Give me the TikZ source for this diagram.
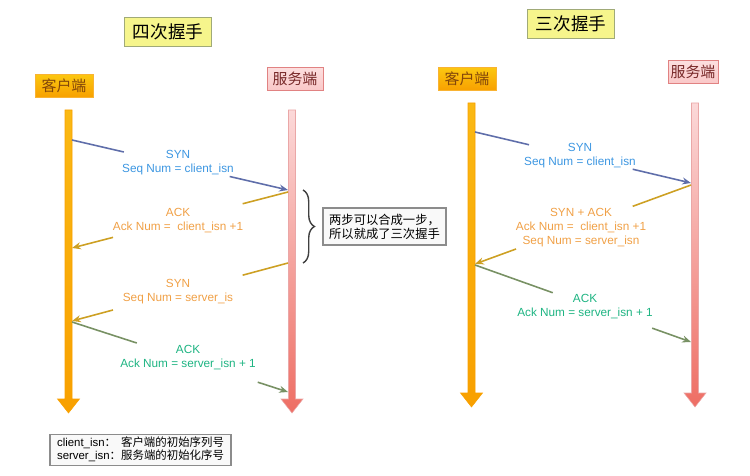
\documentclass[tikz,border=0pt]{standalone}
\usepackage{fontspec}
\setmainfont{Liberation Sans}
\newfontfamily\cjk{Noto Sans CJK SC}
\usepackage{tikz}
\usetikzlibrary{
  arrows.meta,
  positioning, calc,
  decorations.pathreplacing
}
\definecolor{titleyellow}{RGB}{246,245,140}
\definecolor{titleedge}{RGB}{160,170,120}
\definecolor{clitop}{RGB}{250,185,20}
\definecolor{clibot}{RGB}{248,160,0}
\definecolor{clitext}{RGB}{130,70,10}
\definecolor{srvpink}{RGB}{250,200,200}
\definecolor{srvred}{RGB}{238,110,100}
\definecolor{srvedge}{RGB}{225,130,130}
\definecolor{srvtext}{RGB}{120,40,40}
\definecolor{synblue}{RGB}{60,150,225}
\definecolor{synline}{RGB}{95,110,170}
\definecolor{ackorange}{RGB}{240,160,70}
\definecolor{ackline}{RGB}{205,160,35}
\definecolor{fingreen}{RGB}{30,180,130}
\definecolor{finline}{RGB}{120,145,100}
\definecolor{notegray}{RGB}{140,140,140}
\tikzset{
  basebox/.style={rectangle,align=center,inner sep=1pt},
  titlebox/.style={basebox,fill=titleyellow,draw=titleedge,line width=0.8pt,minimum width=1.74cm,minimum height=0.58cm,font=\cjk\fontsize{10}{12}\selectfont},
  clientbox/.style={basebox,top color=clitop!80!yellow,bottom color=clibot,draw=clibot!80,text=clitext,minimum width=1.16cm,minimum height=0.46cm,font=\cjk\fontsize{8.5}{10}\selectfont},
  serverbox/.style={basebox,top color=srvpink!60,bottom color=srvpink,draw=srvedge,text=srvtext,minimum width=1.12cm,minimum height=0.45cm,font=\cjk\fontsize{8.5}{10}\selectfont},
  notebox/.style={basebox,fill=gray!5,draw=notegray,line width=0.6pt,align=left,font=\fontsize{6.5}{7.6}\selectfont},
  lbl/.style={align=center,inner sep=0pt,font=\fontsize{6.7}{8}\selectfont},
  synlbl/.style={lbl,text=synblue},
  acklbl/.style={lbl,text=ackorange},
  finlbl/.style={lbl,text=fingreen},
  arr/.style={line width=0.9pt,-{Stealth[length=5pt,width=4pt]}},
  synarr/.style={arr,color=synline},
  ackarr/.style={arr,color=ackline},
  finarr/.style={arr,color=finline},
  bracestyle/.style={decorate,decoration={brace,amplitude=6.5pt},line width=0.8pt,color=black!75}
}
% lifeline: top, bottom, top colour, bottom colour, edge colour
\newcommand{\lifeline}[5]{%
  \shade[top color=#3,bottom color=#4,draw=#5,line width=0.3pt]
    ($(#1)+(-3.5,0)$) -- ($(#2)+(-3.5,-14)$) -- ($(#2)+(-11,-14)$) -- (#2)
    -- ($(#2)+(11,-14)$) -- ($(#2)+(3.5,-14)$) -- ($(#1)+(3.5,0)$) -- cycle;}

\begin{document}
\begin{tikzpicture}[x=0.02cm,y=-0.02cm]
  \useasboundingbox (0,0) rectangle (750,476);

  % ---- four-way handshake ----
  \node[titlebox] (title4) at (168,32) {四次握手};
  \node[clientbox] (cli4) at (64,86) {客户端};
  \node[serverbox] (srv4) at (295,79) {服务端};

  \coordinate (cli4top) at (68.5,110);
  \coordinate (cli4bot) at (68.5,413);
  \coordinate (srv4top) at (292,110);
  \coordinate (srv4bot) at (292,413);
  \lifeline{cli4top}{cli4bot}{clitop}{clibot}{clibot}
  \lifeline{srv4top}{srv4bot}{srvpink!70}{srvred}{srvedge!70}

  \coordinate (c4a) at (72,140);  \coordinate (s4a) at (288,190);
  \coordinate (s4b) at (288,192); \coordinate (c4b) at (72,248);
  \coordinate (s4c) at (288,263); \coordinate (c4c) at (72,321);
  \coordinate (c4d) at (72,322);  \coordinate (s4d) at (288,392);

  \node[synlbl] (syn4) at (178,163) {SYN\\Seq Num = client\_isn};
  \node[acklbl] (ack4) at (178,221) {ACK\\Ack Num =\ \ client\_isn +1};
  \node[acklbl] (synb4) at (178,292) {SYN\\Seq Num = server\_is};
  \node[finlbl] (fin4) at (188,358) {ACK\\Ack Num = server\_isn + 1};

  \draw[synarr,-] (c4a) -- ($(c4a)!0.24!(s4a)$);
  \draw[synarr] ($(c4a)!0.73!(s4a)$) -- (s4a);
  \draw[ackarr,-] (s4b) -- ($(s4b)!0.21!(c4b)$);
  \draw[ackarr] ($(s4b)!0.81!(c4b)$) -- (c4b);
  \draw[ackarr,-] (s4c) -- ($(s4c)!0.21!(c4c)$);
  \draw[ackarr] ($(s4c)!0.81!(c4c)$) -- (c4c);
  \draw[finarr,-] (c4d) -- ($(c4d)!0.30!(s4d)$);
  \draw[finarr] ($(c4d)!0.86!(s4d)$) -- (s4d);

  \coordinate (brtop) at (303,190);
  \coordinate (brbot) at (303,263);
  \draw[bracestyle] (brtop) -- (brbot);
  \node[notebox,minimum width=2.46cm,minimum height=0.74cm,font=\cjk\fontsize{7}{8}\selectfont]
    (merge) at (384.5,226.5) {两步可以合成一步，\\所以就成了三次握手};

  \node[notebox,minimum width=3.62cm,minimum height=0.6cm] (legend) at (140.5,450)
    {\begin{tabular}{@{}l@{}l@{}}
      client\_isn{\cjk：}\ & {\cjk 客户端的初始序列号}\\
      server\_isn{\cjk：} & {\cjk 服务端的初始化序号}
     \end{tabular}};

  % ---- three-way handshake ----
  \node[titlebox] (title3) at (571,24) {三次握手};
  \node[clientbox] (cli3) at (467,79) {客户端};
  \node[serverbox,minimum width=1.0cm] (srv3) at (693,72) {服务端};

  \coordinate (cli3top) at (471.5,103);
  \coordinate (cli3bot) at (471.5,407);
  \coordinate (srv3top) at (695,103);
  \coordinate (srv3bot) at (695,407);
  \lifeline{cli3top}{cli3bot}{clitop}{clibot}{clibot}
  \lifeline{srv3top}{srv3bot}{srvpink!70}{srvred}{srvedge!70}

  \coordinate (c3a) at (475,132); \coordinate (s3a) at (691,183);
  \coordinate (s3b) at (691,185); \coordinate (c3b) at (475,264);
  \coordinate (c3c) at (475,265); \coordinate (s3c) at (691,342);

  \node[synlbl] (syn3) at (580,156) {SYN\\Seq Num = client\_isn};
  \node[acklbl] (synack3) at (581,228) {SYN + ACK\\Ack Num =\ \ client\_isn +1\\Seq Num = server\_isn};
  \node[finlbl] (fin3) at (585,307) {ACK\\Ack Num = server\_isn + 1};

  \draw[synarr,-] (c3a) -- ($(c3a)!0.25!(s3a)$);
  \draw[synarr] ($(c3a)!0.73!(s3a)$) -- (s3a);
  \draw[ackarr,-] (s3b) -- ($(s3b)!0.27!(c3b)$);
  \draw[ackarr] ($(s3b)!0.81!(c3b)$) -- (c3b);
  \draw[finarr,-] (c3c) -- ($(c3c)!0.36!(s3c)$);
  \draw[finarr] ($(c3c)!0.82!(s3c)$) -- (s3c);
\end{tikzpicture}
\end{document}
